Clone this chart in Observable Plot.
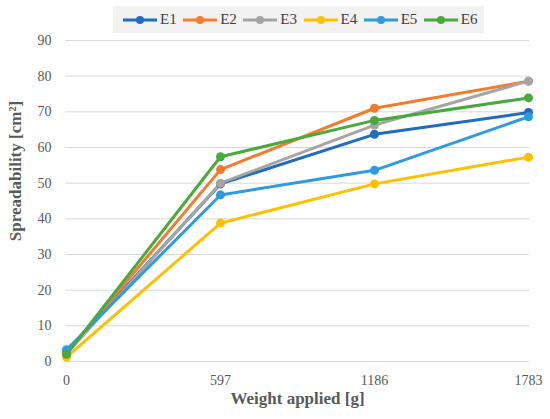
<!DOCTYPE html>
<html><head><meta charset="utf-8">
<script src="https://cdn.jsdelivr.net/npm/d3@7"></script>
<script src="https://cdn.jsdelivr.net/npm/@observablehq/plot@0.6"></script>
<style>
body{margin:0;background:#fff;}
#wrap{position:relative;width:550px;height:419px;}
#legend{position:absolute;left:113px;top:6px;width:371px;height:27px;background:#f2f2f2;display:flex;align-items:center;padding-left:10px;box-sizing:border-box;font-family:"Liberation Serif",serif;font-size:15px;color:#404040;}
.item{display:flex;align-items:center;width:61px;}
.item span{margin-left:3px;}
</style></head><body><div id="wrap"><div id="legend"></div></div>
<script>
const weights = ["0","597","1186","1783"];
const series = ["E1","E2","E3","E4","E5","E6"];
const colors = ["#1f6cc0","#f47b2c","#a5a5a5","#ffc000","#2e9be0","#48aa3c"];
const E1 = [2.8, 49.8, 63.7, 69.8];
const E2 = [2.4, 53.8, 71.0, 78.6];
const E3 = [2.2, 50.0, 66.3, 78.6];
const E4 = [1.2, 38.8, 49.8, 57.3];
const E5 = [3.3, 46.7, 53.6, 68.6];
const E6 = [2.0, 57.4, 67.6, 73.9];
const yTicks = [0,10,20,30,40,50,60,70,80,90];
const values = {E1,E2,E3,E4,E5,E6};
const data = series.flatMap(s => weights.map((w,i) => ({series:s, weight:w, value:values[s][i]})));

const chart = Plot.plot({
  width: 550, height: 419,
  marginLeft: 65, marginRight: 21, marginTop: 40, marginBottom: 58,
  style: {fontFamily: "Liberation Serif, serif", fontSize: "14px", color: "#595959", background: "#fff"},
  x: {type: "point", domain: weights, padding: 0, label: null},
  y: {domain: [0, 90], ticks: yTicks, label: null},
  color: {domain: series, range: colors},
  marks: [
    Plot.gridY(yTicks, {stroke: "#d9d9d9", strokeOpacity: 1, strokeWidth: 1}),
    Plot.axisY({ticks: yTicks, tickSize: 0, tickPadding: 14, label: null, fill: "#595959"}),
    Plot.axisX({tickSize: 0, tickPadding: 14, label: null, fill: "#595959"}),
    Plot.line(data, {x: "weight", y: "value", z: "series", stroke: "series", strokeWidth: 3}),
    Plot.dot(data, {x: "weight", y: "value", fill: "series", r: 4.5}),
    Plot.text(["Spreadability [cm²]"], {frameAnchor: "left", textAnchor: "middle", dx: -50, dy: -30, rotate: -90, fontWeight: "bold", fontSize: 17, fill: "#595959"}),
    Plot.text(["Weight applied [g]"], {frameAnchor: "bottom", textAnchor: "middle", dy: 42, fontWeight: "bold", fontSize: 17, fill: "#595959"})
  ]
});
document.getElementById("wrap").prepend(chart);
const leg = document.getElementById("legend");
series.forEach((s,i) => {
  const d = document.createElement("div");
  d.className = "item";
  d.innerHTML = `<svg width="34" height="10"><line x1="0" y1="5" x2="34" y2="5" stroke="${colors[i]}" stroke-width="3"/><circle cx="17" cy="5" r="4" fill="${colors[i]}"/></svg><span>${s}</span>`;
  leg.appendChild(d);
});
</script></body></html>
